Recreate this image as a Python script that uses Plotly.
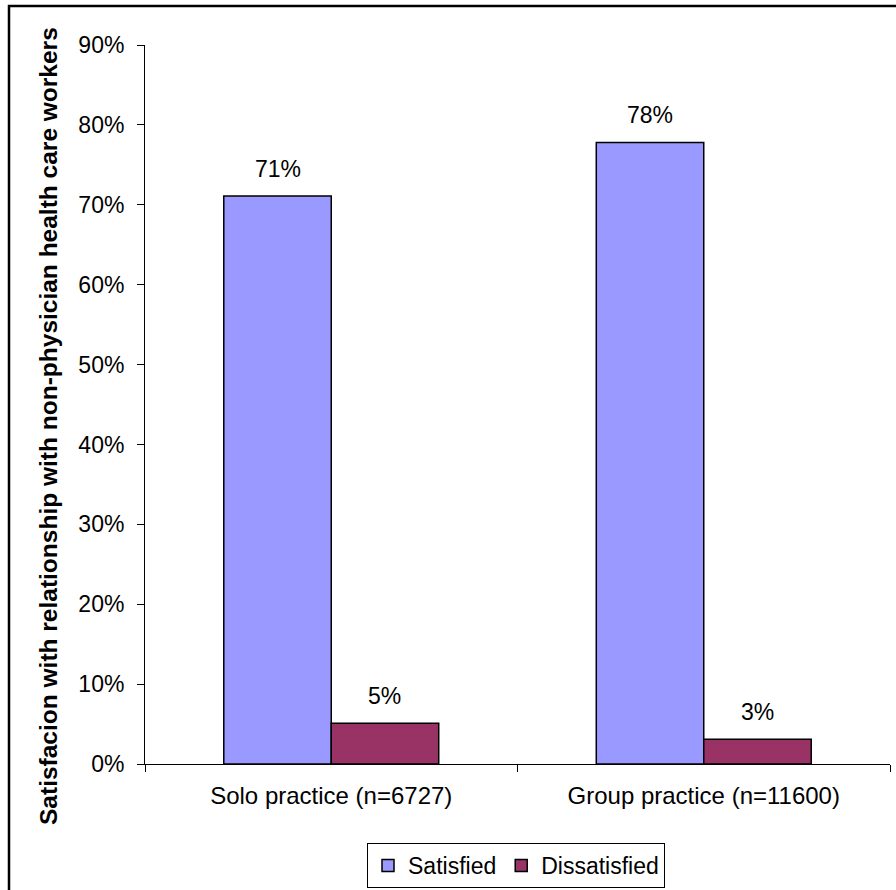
import plotly.graph_objects as go

categories = ["Solo practice (n=6727)", "Group practice (n=11600)"]
satisfied = [0.711, 0.778]
dissatisfied = [0.051, 0.031]
y_ticks = [0.0, 0.1, 0.2, 0.3, 0.4, 0.5, 0.6, 0.7, 0.8, 0.9]

FONT = "Liberation Sans, Arial, sans-serif"
W, H = 896, 890
ML, MR, MT, MB = 145, 6, 45, 126
PW, PH = W - ML - MR, H - MT - MB
BARGAP = 0.423

fig = go.Figure()
fig.add_trace(go.Bar(
    name="Satisfied", x=categories, y=satisfied,
    marker=dict(color="#9999FF", line=dict(color="#000000", width=1.5)),
))
fig.add_trace(go.Bar(
    name="Dissatisfied", x=categories, y=dissatisfied,
    marker=dict(color="#993366", line=dict(color="#000000", width=1.5)),
))

# value labels above each bar, centred on the bar
bar_w = PW / len(categories) * (1 - BARGAP) / 2
annotations = []
for series, sign in ((satisfied, -1), (dissatisfied, 1)):
    for cat, v in zip(categories, series):
        annotations.append(dict(
            x=cat, y=v, xref="x", yref="y", text=f"{v:.0%}",
            showarrow=False, xshift=sign * bar_w / 2, yshift=27,
            yanchor="middle", font=dict(family=FONT, size=23, color="#000000"),
        ))

# rotated axis title
annotations.append(dict(
    x=(49 - ML) / PW, y=(H - MB - 426) / PH, xref="paper", yref="paper",
    text="<b>Satisfacion with relationship with non-physician health care workers</b>",
    textangle=-90, showarrow=False, xanchor="center", yanchor="middle",
    font=dict(family=FONT, size=24.5, color="#000000"),
))

fig.update_layout(
    width=W, height=H,
    margin=dict(l=ML, r=MR, t=MT, b=MB, autoexpand=False),
    paper_bgcolor="#FFFFFF", plot_bgcolor="#FFFFFF",
    barmode="group", bargap=BARGAP, bargroupgap=0,
    font=dict(family=FONT, size=23, color="#000000"),
    showlegend=True,
    legend=dict(
        orientation="h", xref="paper", x=(516 - ML) / PW, xanchor="center",
        yref="container", y=(H - 843) / H, yanchor="top",
        bordercolor="#000000", borderwidth=1,
        font=dict(family=FONT, size=23, color="#000000"),
        itemwidth=30, tracegroupgap=0,
    ),
    annotations=annotations,
    shapes=[dict(
        type="rect", xref="paper", yref="paper",
        x0=(9 - ML) / PW, x1=1.2, y0=-0.3, y1=(H - MB - 6) / PH,
        line=dict(color="#000000", width=2.5), layer="below",
    )],
)
fig.update_xaxes(
    showline=True, linecolor="#000000", linewidth=1,
    ticks="outside", tickson="boundaries", ticklen=7, tickcolor="#000000",
    ticklabelstandoff=10,
    showgrid=False, tickfont=dict(family=FONT, size=24),
)
fig.update_yaxes(
    range=[0, 0.9], tickvals=y_ticks, tickformat=".0%",
    showline=True, linecolor="#000000", linewidth=1,
    ticks="outside", ticklen=7, tickcolor="#000000",
    ticklabelstandoff=8,
    showgrid=False, zeroline=False, tickfont=dict(family=FONT, size=23),
)

fig.write_html("out.html")
